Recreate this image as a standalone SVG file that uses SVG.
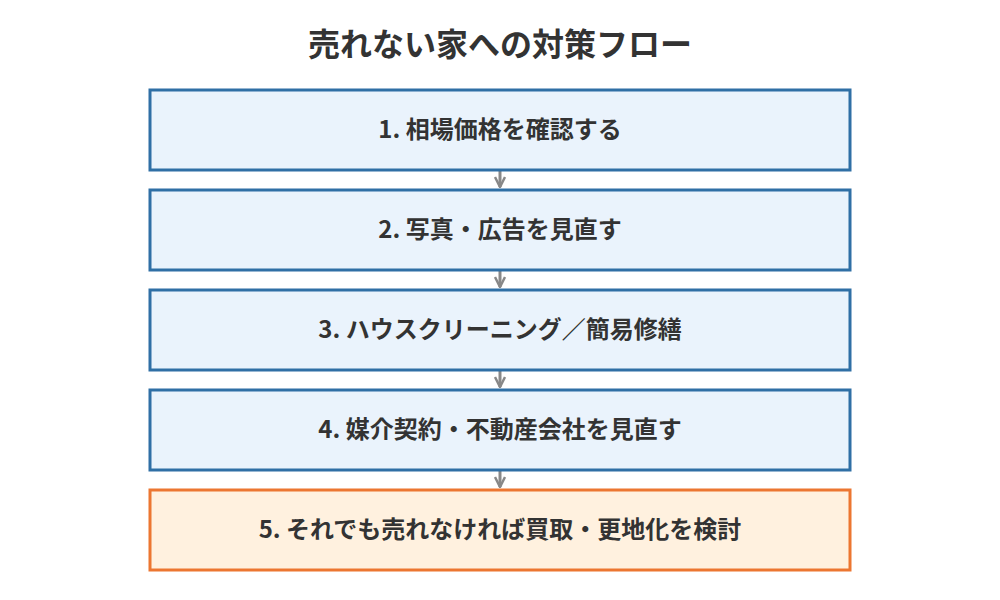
<svg xmlns="http://www.w3.org/2000/svg" width="1000" height="600" viewBox="0 0 1000 600">
<style>
.t{font-family:"Noto Sans CJK JP","Noto Sans",sans-serif;font-weight:bold;fill:#333;text-anchor:middle}
.l{font-size:24px}
.b{fill:#eaf3fc;stroke:#2f6fa5;stroke-width:3}
.o{fill:#fff1df;stroke:#ec7631;stroke-width:3}
.c{stroke:#888;stroke-width:3;fill:none}
</style>
<defs>
<marker id="a" viewBox="0 0 12 12" refX="11" refY="6" markerWidth="12" markerHeight="12" orient="auto" markerUnits="userSpaceOnUse">
<path d="M1,1 L11,6 L1,11" fill="none" stroke="#888" stroke-width="2.5"/>
</marker>
</defs>
<rect width="1000" height="600" fill="#fff"/>
<text class="t" x="500" y="56" font-size="32">売れない家への対策フロー</text>
<g id="connectors">
<line class="c" x1="500" y1="170" x2="500" y2="187" marker-end="url(#a)"/>
<line class="c" x1="500" y1="270" x2="500" y2="287" marker-end="url(#a)"/>
<line class="c" x1="500" y1="370" x2="500" y2="387" marker-end="url(#a)"/>
<line class="c" x1="500" y1="470" x2="500" y2="487" marker-end="url(#a)"/>
</g>
<g id="n1"><rect class="b" x="150" y="90" width="700" height="80"/><text class="t l" x="500" y="138">1. 相場価格を確認する</text></g>
<g id="n2"><rect class="b" x="150" y="190" width="700" height="80"/><text class="t l" x="500" y="238">2. 写真・広告を見直す</text></g>
<g id="n3"><rect class="b" x="150" y="290" width="700" height="80"/><text class="t l" x="500" y="338">3. ハウスクリーニング／簡易修繕</text></g>
<g id="n4"><rect class="b" x="150" y="390" width="700" height="80"/><text class="t l" x="500" y="438">4. 媒介契約・不動産会社を見直す</text></g>
<g id="n5"><rect class="o" x="150" y="490" width="700" height="80"/><text class="t l" x="500" y="538">5. それでも売れなければ買取・更地化を検討</text></g>
</svg>
